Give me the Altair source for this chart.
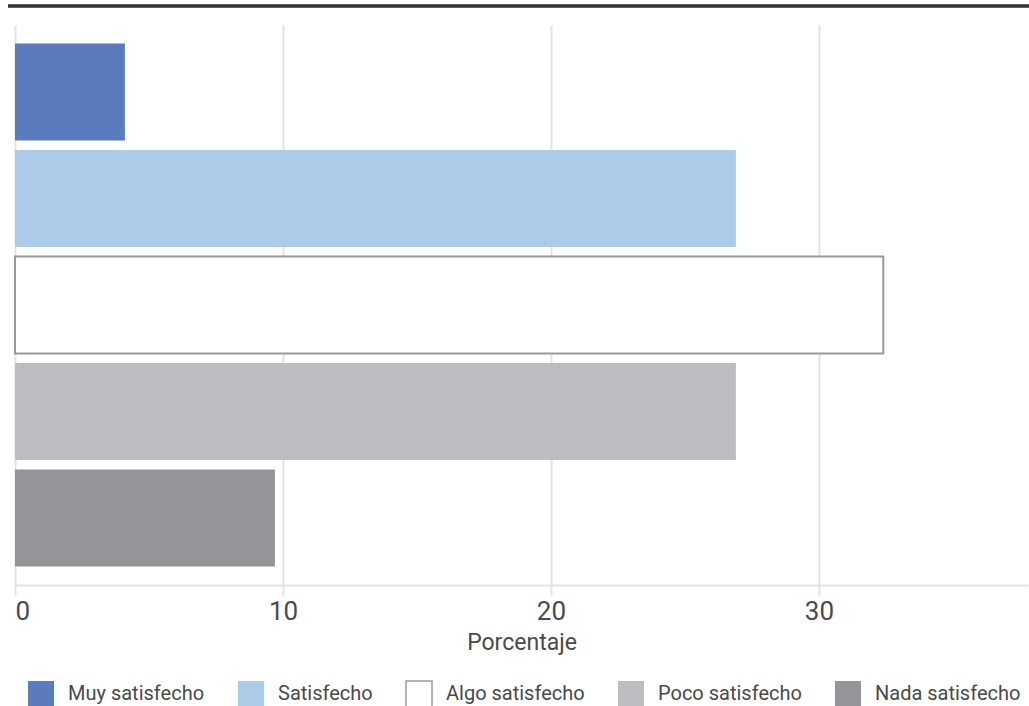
import altair as alt
import pandas as pd

categories = ["Muy satisfecho", "Satisfecho", "Algo satisfecho", "Poco satisfecho", "Nada satisfecho"]
values = [4.1, 26.9, 32.4, 26.9, 9.7]
fill_colors = ["#5a7bbd", "#abcbe9", "#ffffff", "#bcbdc1", "#939598"]
stroke_colors = ["transparent", "transparent", "#9a9a9a", "transparent", "transparent"]
tick_values = [0, 10, 20, 30]

df = pd.DataFrame({"cat": categories, "val": values})

FONT = "Roboto"
TXT = "#4a4a4a"

bars = alt.Chart(df).mark_bar(strokeWidth=2).encode(
    x=alt.X("val:Q",
            scale=alt.Scale(domain=[0, 37.8], nice=False, zero=True),
            axis=alt.Axis(values=tick_values, title="Porcentaje", format="d",
                          grid=True, gridColor="#e3e3e3", gridWidth=2,
                          domainColor="#e3e3e3", domainWidth=2,
                          tickColor="#e3e3e3", tickWidth=2, tickSize=10,
                          labelFontSize=26, labelColor=TXT, labelFont=FONT,
                          labelPadding=3,
                          titleFontSize=23, titleFontWeight="normal", titleColor=TXT,
                          titleFont=FONT, titlePadding=7)),
    y=alt.Y("cat:N", sort=categories, axis=None,
            scale=alt.Scale(paddingInner=0.09, paddingOuter=0.174)),
    fill=alt.Fill("cat:N", sort=categories,
                  scale=alt.Scale(domain=categories, range=fill_colors),
                  legend=alt.Legend(title=None, orient="none", direction="horizontal",
                                    legendX=12, legendY=655,
                                    symbolType="square", symbolSize=676,
                                    symbolStrokeWidth=1.5,
                                    labelFontSize=20, labelColor=TXT, labelFont=FONT,
                                    labelOffset=13, columnPadding=30)),
    stroke=alt.Stroke("cat:N", sort=categories,
                      scale=alt.Scale(domain=categories, range=stroke_colors),
                      legend=None),
)

top_rule = alt.Chart(df).mark_rule(color="#333333", strokeWidth=2.5).encode(
    x=alt.value(-7), x2=alt.value(1014), y=alt.value(-19)
)

chart = alt.layer(bars, top_rule).properties(
    width=1013, height=560,
    autosize=alt.AutoSizeParams(type="none"),
    padding={"left": 15, "top": 25, "right": 1, "bottom": 121},
).configure(font=FONT).configure_view(stroke=None)

chart.save("out.html", embed_options={"renderer": "svg", "actions": False})
